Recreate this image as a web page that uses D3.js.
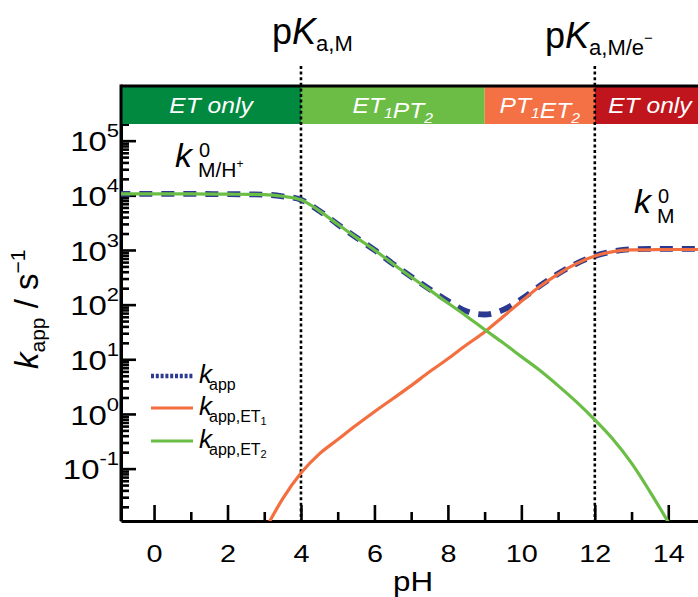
<!DOCTYPE html>
<html>
<head>
<meta charset="utf-8">
<script src="https://cdn.jsdelivr.net/npm/d3@7"></script>
<style>
  body { margin: 0; background: #fff; }
  svg { display: block; font-family: "Liberation Sans", Arial, Helvetica, sans-serif; }
</style>
</head>
<body>
<svg id="chart" width="698" height="597"></svg>
<script>
// pH grid and apparent rate constants (s^-1)
const pH   = [-1, 0, 1, 2, 3, 3.5, 4, 4.5, 5, 5.5, 6, 6.5, 7, 7.5, 8, 8.5, 9, 9.5, 10, 10.5, 11, 11.5, 12, 12.5, 13, 13.5, 14, 14.5, 15];
// k_app,ET2 (ET1-PT2 pathway, dominant below pH 9)
const kET2 = [10600, 10600, 10600, 10500, 10300, 9600, 8300, 5200, 2950, 1700, 1000, 560, 320, 186, 107, 62, 35, 20, 11.2, 6.3, 3.3, 1.66, 0.78, 0.34, 0.126, 0.038, 0.0105, null, null];
// k_app,ET1 (PT1-ET2 pathway, dominant above pH 9)
const kET1 = [null, null, null, null, 0.0071, 0.028, 0.083, 0.186, 0.34, 0.62, 1.1, 1.9, 3.3, 5.9, 10.2, 18.2, 31.6, 60, 115, 214, 363, 562, 776, 933, 1000, 1010, 1020, 1020, 1020];
// overall k_app
const kApp = [10600, 10600, 10600, 10500, 10300, 9600, 8300, 5200, 2950, 1700, 1000, 560, 325, 192, 117, 76, 66, 80, 126, 220, 366, 564, 777, 940, 1035, 1045, 1045, 1045, 1045];

// axis ticks
const pHDomain = [-0.9, 15];
const kDomain = [0.011, 1e6];
const xMajorTicks = [0, 2, 4, 6, 8, 10, 12, 14];
const xMinorTicks = [1, 3, 5, 7, 9, 11, 13];
const yMajorTicks = [1e-1, 1e0, 1e1, 1e2, 1e3, 1e4, 1e5];
const yTickExponents = ["-1", "0", "1", "2", "3", "4", "5"];

// mechanistic regimes along pH
const regimeStart  = [-0.9, 4, 9, 12];
const regimeEnd    = [4, 9, 12, 15];
const regimeColors = ["#00893f", "#6bbd45", "#f37144", "#c1151e"];
const regimeText   = [[["ET only", ""]], [["ET", "1"], ["PT", "2"]], [["PT", "1"], ["ET", "2"]], [["ET only", ""]]];

// acid dissociation constants marked as vertical lines
const pKaValues = [4, 12];

const colBlue = "#2b3990", colOrange = "#f36f40", colGreen = "#6bbe45";

const svg = d3.select("#chart");
const plot = { left: 121, right: 705, top: 86, bottom: 521 };

const x = d3.scaleLinear().domain(pHDomain).range([plot.left, plot.right]);
const y = d3.scaleLog().domain(kDomain).range([plot.bottom, plot.top]);

// widen glyphs horizontally around the text's own anchor point
function hstretch(sel, s) {
  sel.each(function () {
    const t = d3.select(this);
    const x0 = +t.attr("x") || 0, y0 = +t.attr("y") || 0;
    t.attr("transform", `translate(${x0},${y0}) scale(${s},1) translate(${-x0},${-y0})`);
  });
}

// ---- axes ----
const gx = svg.append("g").attr("transform", `translate(0,${plot.bottom})`)
  .call(d3.axisBottom(x).tickValues(xMajorTicks).tickSizeInner(-16).tickSizeOuter(0).tickPadding(24).tickFormat(d3.format("d")));
const gxMinor = svg.append("g").attr("transform", `translate(0,${plot.bottom})`)
  .call(d3.axisBottom(x).tickValues(xMinorTicks).tickSizeInner(-9).tickSizeOuter(0).tickFormat(""));
gxMinor.select(".domain").remove();

const yMinor = y.ticks().filter(v => Math.abs(Math.log10(v) - Math.round(Math.log10(v))) > 1e-6);
const gyMinor = svg.append("g").attr("transform", `translate(${plot.left},0)`)
  .call(d3.axisLeft(y).tickValues(yMinor).tickSizeInner(-8).tickSizeOuter(0).tickFormat(""));
gyMinor.select(".domain").remove();

const gy = svg.append("g").attr("transform", `translate(${plot.left},0)`)
  .call(d3.axisLeft(y).tickValues(yMajorTicks).tickSizeInner(-15).tickSizeOuter(0).tickPadding(2).tickFormat(""));

[gx, gxMinor, gy, gyMinor].forEach(g => {
  g.selectAll(".tick line").attr("stroke", "#000").attr("stroke-width", 2.6);
  g.select(".domain").attr("stroke", "#000").attr("stroke-width", 3);
});

gx.selectAll(".tick text").attr("font-size", 24).attr("fill", "#000")
  .attr("font-family", "Liberation Sans, Arial, sans-serif");
hstretch(gx.selectAll(".tick text"), 1.2);

gy.selectAll(".tick text").each(function (d, i) {
  const t = d3.select(this).attr("font-size", 27).attr("fill", "#000").attr("dy", "0.38em")
    .attr("font-family", "Liberation Sans, Arial, sans-serif");
  t.text(null);
  t.append("tspan").text("10");
  t.append("tspan").attr("font-size", 18).attr("dy", -14).text(yTickExponents[i]);
});
hstretch(gy.selectAll(".tick text"), 1.22);

// ---- regime band ----
const bandH = 38;
const band = svg.append("g");
regimeStart.forEach((s, i) => {
  band.append("rect")
    .attr("x", x(s)).attr("y", plot.top)
    .attr("width", x(regimeEnd[i]) - x(s)).attr("height", bandH)
    .attr("fill", regimeColors[i]);
  const cx = (x(s) + x(regimeEnd[i])) / 2;
  const t = band.append("text")
    .attr("class", "regime")
    .attr("x", cx).attr("y", plot.top + 27.5)
    .attr("text-anchor", "middle").attr("fill", "#fff")
    .attr("font-size", 22).attr("font-style", "italic");
  regimeText[i].forEach(([main, sub]) => {
    t.append("tspan").text(main);
    if (sub) {
      t.append("tspan").attr("font-size", 14).attr("dy", 5).text(sub);
      t.append("tspan").attr("font-size", 22).attr("dy", -5).text("");
    }
  });
});
hstretch(band.selectAll("text.regime"), 1.12);
svg.append("line")
  .attr("x1", plot.left).attr("x2", plot.right)
  .attr("y1", plot.top).attr("y2", plot.top)
  .attr("stroke", "#000").attr("stroke-width", 3);
svg.append("line")
  .attr("x1", plot.left).attr("x2", plot.left)
  .attr("y1", plot.top - 1.5).attr("y2", plot.bottom)
  .attr("stroke", "#000").attr("stroke-width", 3);

// ---- pKa markers ----
svg.selectAll(".pka").data(pKaValues).join("line")
  .attr("class", "pka")
  .attr("x1", d => x(d)).attr("x2", d => x(d))
  .attr("y1", 66).attr("y2", plot.bottom)
  .attr("stroke", "#000").attr("stroke-width", 2.6)
  .attr("stroke-dasharray", "3,2.6");

// ---- curves ----
svg.append("clipPath").attr("id", "plotClip").append("rect")
  .attr("x", plot.left).attr("y", plot.top)
  .attr("width", plot.right - plot.left).attr("height", plot.bottom - plot.top);

const lineFor = arr => d3.line()
  .defined((d, i) => arr[i] != null)
  .x((d, i) => x(pH[i]))
  .y((d, i) => y(arr[i]))
  .curve(d3.curveMonotoneX)(pH);

const curves = svg.append("g").attr("clip-path", "url(#plotClip)");
curves.append("path").attr("d", lineFor(kApp)).attr("fill", "none")
  .attr("stroke", colBlue).attr("stroke-width", 5.8).attr("stroke-dasharray", "13,9");
curves.append("path").attr("d", lineFor(kET1)).attr("fill", "none")
  .attr("stroke", colOrange).attr("stroke-width", 3.2);
curves.append("path").attr("d", lineFor(kET2)).attr("fill", "none")
  .attr("stroke", colGreen).attr("stroke-width", 3.2);

// ---- axis titles ----
const xt = svg.append("text")
  .attr("x", (plot.left + plot.right) / 2).attr("y", 591)
  .attr("text-anchor", "middle").attr("font-size", 28).text("pH");
hstretch(xt, 1.12);

const yt = svg.append("text")
  .attr("transform", "translate(38,369) rotate(-90)")
  .attr("font-size", 33);
yt.append("tspan").attr("font-style", "italic").text("k");
yt.append("tspan").attr("font-size", 21).attr("dy", 7).text("app");
yt.append("tspan").attr("dy", -7).text(" / s");
yt.append("tspan").attr("font-size", 21).attr("dy", -13).text("\u22121");

// ---- pKa labels ----
function pkaLabel(x0, base, sub, sup) {
  const t = svg.append("text").attr("x", x0).attr("y", base).attr("font-size", 36);
  t.append("tspan").text("p");
  t.append("tspan").attr("font-style", "italic").text("K");
  t.append("tspan").attr("font-size", 22).attr("dy", 7).text(sub);
  if (sup) t.append("tspan").attr("font-size", 15).attr("dy", -12).text(sup);
}
pkaLabel(272, 44, "a,M", null);
pkaLabel(545, 48, "a,M/e", "\u2212");

// ---- rate constant limits ----
function kLabel(x0, base, subText, plus) {
  svg.append("text").attr("x", x0).attr("y", base)
    .attr("font-size", 34).attr("font-style", "italic").text("k");
  svg.append("text").attr("x", x0 + 24).attr("y", base - 10)
    .attr("font-size", 20).text("0");
  const s = svg.append("text").attr("x", x0 + 23).attr("y", base + 10).attr("font-size", 21);
  s.append("tspan").text(subText);
  if (plus) s.append("tspan").attr("font-size", 12).attr("dy", -9).text("+");
}
kLabel(175, 167, "M/H", true);
kLabel(634, 213, "M", false);

// ---- legend ----
const legendRows = [
  { color: colBlue, dash: "3,1.8", width: 4.5, sub: "app", idx: "" },
  { color: colOrange, dash: null, width: 3.2, sub: "app,ET", idx: "1" },
  { color: colGreen, dash: null, width: 3.2, sub: "app,ET", idx: "2" }
];
const legendY = [376, 408, 441];
legendRows.forEach((r, i) => {
  svg.append("line")
    .attr("x1", 151).attr("x2", 193).attr("y1", legendY[i]).attr("y2", legendY[i])
    .attr("stroke", r.color).attr("stroke-width", r.width)
    .attr("stroke-dasharray", r.dash);
  const t = svg.append("text").attr("x", 199).attr("y", legendY[i] + 7).attr("font-size", 26);
  t.append("tspan").attr("font-style", "italic").text("k");
  t.append("tspan").attr("font-size", 16).attr("dy", 7).attr("dx", -3).text(r.sub);
  if (r.idx) t.append("tspan").attr("font-size", 11).attr("dy", 3).text(r.idx);
});
</script>
</body>
</html>
